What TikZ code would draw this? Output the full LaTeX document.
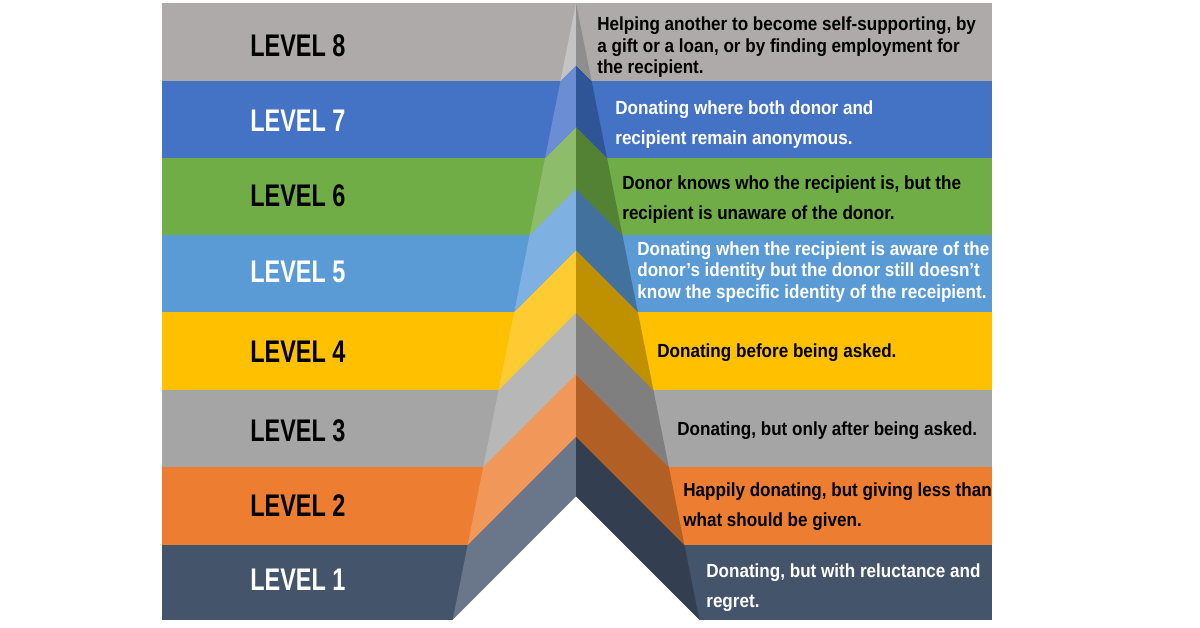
\documentclass[tikz,border=0pt]{standalone}
\usepackage{fontspec}
\newfontfamily\levelfont{Liberation Sans}[FakeStretch=0.75]
\newfontfamily\descfont{Liberation Sans}[FakeStretch=0.9]
\usepackage{tikz}
\usetikzlibrary{positioning}

% band colours
\definecolor{band8}{HTML}{AEAAAA}
\definecolor{band7}{HTML}{4472C4}
\definecolor{band6}{HTML}{70AD47}
\definecolor{band5}{HTML}{5B9BD5}
\definecolor{band4}{HTML}{FFC000}
\definecolor{band3}{HTML}{A5A5A5}
\definecolor{band2}{HTML}{ED7D31}
\definecolor{band1}{HTML}{44546A}
% pyramid faces (lit / shaded)
\definecolor{lit8}{HTML}{C4C4C4}  \definecolor{shade8}{HTML}{8E8E8E}
\definecolor{lit7}{HTML}{6A8DD4}  \definecolor{shade7}{HTML}{2F5597}
\definecolor{lit6}{HTML}{8DBD6A}  \definecolor{shade6}{HTML}{548235}
\definecolor{lit5}{HTML}{7EB1E1}  \definecolor{shade5}{HTML}{41719C}
\definecolor{lit4}{HTML}{FFCB33}  \definecolor{shade4}{HTML}{BF9000}
\definecolor{lit3}{HTML}{B7B7B7}  \definecolor{shade3}{HTML}{7F7F7F}
\definecolor{lit2}{HTML}{F1975A}  \definecolor{shade2}{HTML}{B25F26}
\definecolor{lit1}{HTML}{6A7689}  \definecolor{shade1}{HTML}{333F50}

\begin{document}
\begin{tikzpicture}[
    x=0.02cm, y=-0.02cm,
    lvl/.style={anchor=west, inner sep=0pt,
                font=\levelfont\bfseries\fontsize{17.8}{20}\selectfont},
    desc/.style={anchor=west, align=left, inner sep=0pt},
  ]
    \useasboundingbox (0,0) rectangle (1200,628);

    % Bands
    \foreach \k/\top/\bot in {8/3/81, 7/81/158, 6/158/235, 5/235/312,
                              4/312/390, 3/390/467, 2/467/545, 1/545/620}
      \fill[band\k] (162,\top) rectangle (992,\bot);

    % Pyramid: every level is a chevron with 45 degree edges
    \foreach \k/\lo/\hi in {1/620/545, 2/545/467, 3/467/390, 4/390/312,
                            5/312/235, 6/235/158, 7/158/81, 8/81/3} {
      \pgfmathsetmacro\dlo{0.2*(\lo-3)}
      \pgfmathsetmacro\dhi{0.2*(\hi-3)}
      \fill[lit\k] ({576-\dlo},\lo) -- ({576},{\lo-\dlo})
                   -- ({576},{\hi-\dhi}) -- ({576-\dhi},\hi) -- cycle;
      \fill[shade\k] ({576+\dlo},\lo) -- ({576},{\lo-\dlo})
                   -- ({576},{\hi-\dhi}) -- ({576+\dhi},\hi) -- cycle;
    }
    % Notch under the pyramid
    \fill[white] (452.6,620) -- (576,496.6) -- (699.4,620) -- cycle;

    % Labels and descriptions
    \foreach \k/\y/\dy/\tx/\ink/\lsk/\txt in {
        8/46/47.5/597/black/12.2/{Helping another to become self-supporting, by\\a gift or a loan, or by finding employment for\\the recipient.},
        7/121/125/615/white/17/{Donating where both donor and\\recipient remain anonymous.},
        6/196/199.5/622/black/17/{Donor knows who the recipient is, but the\\recipient is unaware of the donor.},
        5/272/272/637/white/12.2/{Donating when the recipient is aware of the\\donor’s identity but the donor still doesn’t\\know the specific identity of the receipient.},
        4/352/353/657/black/17/{Donating before being asked.},
        3/431/431/677/black/17/{Donating, but only after being asked.},
        2/506/507/683/black/17/{Happily donating, but giving less than\\what should be given.},
        1/580/588/706/white/17/{Donating, but with reluctance and\\regret.}} {
      \node[lvl, text=\ink] (level\k) at (250,\y) {LEVEL \k};
      \node[desc, text=\ink, font={\descfont\bfseries\fontsize{10.8}{\lsk}\selectfont}]
           (text\k) at (\tx,\dy) {\txt};
    }
  \end{tikzpicture}
\end{document}
